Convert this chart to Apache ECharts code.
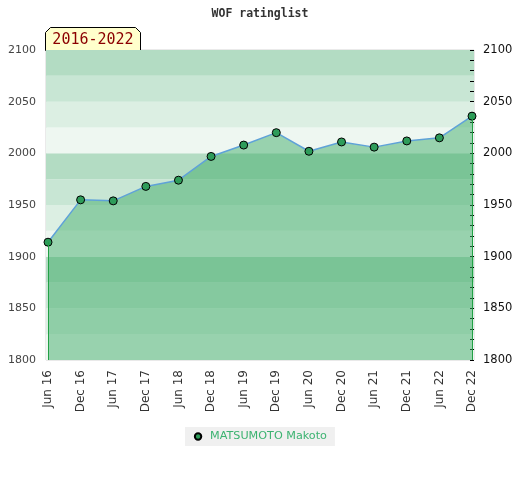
<!DOCTYPE html>
<html lang="en">
<head>
    <meta charset="UTF-8">
    <script src="https://cdn.jsdelivr.net/npm/echarts@6/dist/echarts.min.js"></script>
    <title>WOF ratinglist</title>
</head>
<body style="margin:0;">
<div id="main" style="width: 520px;height:480px;"></div>

<script type="text/javascript">
    // data
    var categories = ['Jun 16','Dec 16','Jun 17','Dec 17','Jun 18','Dec 18','Jun 19',
                      'Dec 19','Jun 20','Dec 20','Jun 21','Dec 21','Jun 22','Dec 22'];
    var ratings = [1914, 1955, 1954, 1968, 1974, 1997, 2008, 2020, 2002, 2011, 2006, 2012, 2015, 2036];
    var playerName = 'MATSUMOTO Makoto';
    var periodLabel = '2016-2022';
    var yMin = 1800, yMax = 2100;

    var bandColors = ['#eef7f1', '#dcefe3', '#c8e6d4', '#b3dcc3'];

    var myChart = echarts.init(document.getElementById('main'));
    var last = ratings.length - 1;

    function every50(v) { return v % 50 === 0 ? v : ''; }

    var option = {
        animation: false,
        title: {
            text: 'WOF ratinglist',
            left: 'center',
            top: 3,
            textStyle: {
                fontFamily: 'DejaVu Sans Mono',
                fontSize: 11.5,
                fontWeight: 'bold',
                color: '#333'
            }
        },
        graphic: [{
            type: 'group',
            left: 45,
            top: 27,
            z: 10,
            children: [{
                type: 'polygon',
                shape: {points: [[0, 23], [0, 5], [5, 0], [90, 0], [95, 5], [95, 23]]},
                style: {fill: '#ffffcc', stroke: '#000', lineWidth: 1}
            }, {
                type: 'text',
                x: 47.5,
                y: 13,
                style: {
                    text: periodLabel,
                    fill: '#8b0000',
                    font: '15px "DejaVu Sans Mono"',
                    align: 'center',
                    verticalAlign: 'middle'
                }
            }]
        }],
        legend: {
            bottom: 34,
            left: 'center',
            data: [playerName],
            backgroundColor: '#f0f0f0',
            padding: [4, 8, 4, 8],
            itemWidth: 8,
            itemHeight: 8,
            itemGap: 8,
            textStyle: {color: '#3cb371', fontSize: 11.2, fontFamily: 'DejaVu Sans', padding: [0, 0, 0, 3]}
        },
        grid: [{
            // frame, bands and both value scales
            left: 46,
            right: 46,
            top: 50,
            bottom: 120,
            show: true,
            borderColor: '#d4d4d4',
            borderWidth: 1
        }, {
            // data points sit 2px inside the frame
            left: 48,
            right: 48,
            top: 50,
            bottom: 120
        }],
        xAxis: [{
            gridIndex: 0,
            type: 'value',
            show: false
        }, {
            gridIndex: 1,
            type: 'category',
            data: categories,
            boundaryGap: false,
            axisLine: {show: false},
            axisTick: {show: false},
            axisLabel: {
                interval: 0,
                rotate: 90,
                margin: 10,
                color: '#333',
                fontSize: 12,
                fontFamily: 'DejaVu Sans'
            },
            splitLine: {show: false}
        }],
        yAxis: [{
            gridIndex: 0,
            type: 'value',
            min: yMin,
            max: yMax,
            interval: 25,
            position: 'left',
            axisLine: {show: false},
            axisTick: {show: false},
            axisLabel: {
                color: '#444',
                fontSize: 11,
                fontFamily: 'DejaVu Sans',
                margin: 10,
                formatter: every50
            },
            splitLine: {show: false},
            splitArea: {show: true, areaStyle: {color: bandColors}}
        }, {
            gridIndex: 0,
            type: 'value',
            min: yMin,
            max: yMax,
            interval: 10,
            position: 'right',
            axisLine: {show: false},
            axisTick: {show: true, inside: true, length: 4, lineStyle: {color: '#000'}},
            axisLabel: {
                color: '#111',
                fontSize: 11.5,
                fontFamily: 'DejaVu Sans',
                margin: 9,
                formatter: every50
            },
            splitLine: {show: false}
        }, {
            gridIndex: 1,
            type: 'value',
            min: yMin,
            max: yMax,
            show: false,
            splitLine: {show: false}
        }],
        series: [{
            name: playerName,
            type: 'line',
            xAxisIndex: 1,
            yAxisIndex: 2,
            data: ratings,
            symbol: 'circle',
            symbolSize: 8,
            itemStyle: {color: '#2e9c5a', borderColor: '#000', borderWidth: 1},
            lineStyle: {color: '#5fa2d8', width: 1.5},
            areaStyle: {color: 'rgb(64,171,104)', opacity: 0.49, origin: 'start'},
            markLine: {
                silent: true,
                symbol: 'none',
                label: {show: false},
                lineStyle: {color: '#22a045', width: 1, type: 'solid', opacity: 1},
                data: [
                    [{coord: [categories[0], ratings[0]]}, {coord: [categories[0], yMin]}],
                    [{coord: [categories[last], ratings[last]]}, {coord: [categories[last], yMin]}]
                ]
            },
            z: 3
        }]
    };
    myChart.setOption(option);
</script>
</body>
</html>
